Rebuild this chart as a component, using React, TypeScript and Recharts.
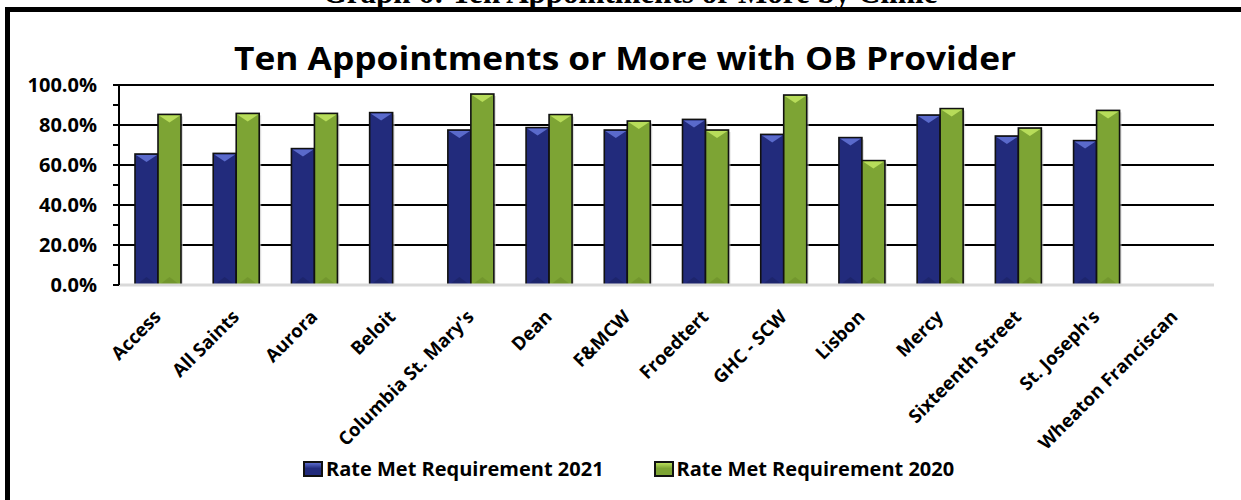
import React from "react";
import { BarChart, Bar, XAxis, YAxis, CartesianGrid, Legend } from "recharts";

const clinics = [
  "Access",
  "All Saints",
  "Aurora",
  "Beloit",
  "Columbia St. Mary's",
  "Dean",
  "F&MCW",
  "Froedtert",
  "GHC - SCW",
  "Lisbon",
  "Mercy",
  "Sixteenth Street",
  "St. Joseph's",
  "Wheaton Franciscan",
];

const rate2021 = [65.5, 65.8, 68.2, 86.2, 77.5, 78.7, 77.5, 82.8, 75.3, 73.7, 85.0, 74.5, 72.2, null];
const rate2020 = [85.3, 85.8, 85.8, null, 95.5, 85.2, 82.0, 77.5, 95.0, 62.2, 88.2, 78.5, 87.3, null];

const yTicks = [0, 10, 20, 30, 40, 50, 60, 70, 80, 90, 100];
const gridTicks = [20, 40, 60, 80, 100];

const data = clinics.map((name, i) => ({ name, r2021: rate2021[i], r2020: rate2020[i] }));

const FONT = "'Open Sans', sans-serif";

const BLUE = { main: "#222b7c", light: "#5a6acb", dark: "#1a2163" };
const GREEN = { main: "#7da434", light: "#b7dc5a", dark: "#6a8e2a" };

const makeBevelBar = (c: typeof BLUE) => (props: any) => {
  const { x, y, width, height } = props;
  if (height == null || height <= 0) return null;
  const w = width;
  const t = Math.min(8, height / 2);
  return (
    <g>
      <rect x={x + 2} y={y + 2} width={w} height={height - 2} fill="#c8c8c8" opacity={0.6} />
      <rect x={x} y={y} width={w} height={height} fill={c.main} stroke="#111" strokeWidth={1.6} />
      <polygon points={`${x + 1},${y + 1} ${x + w - 1},${y + 1} ${x + w / 2},${y + t}`} fill={c.light} />
      <polygon points={`${x + 1},${y + height} ${x + w - 1},${y + height} ${x + w / 2},${y + height - t}`} fill={c.dark} opacity={0.6} />
    </g>
  );
};

const XTick = ({ x, y, payload }: any) => (
  <g transform={`translate(${x + 4},${y + 31})`}>
    <text transform="rotate(-45)" textAnchor="end" fontFamily={FONT} fontWeight={700} fontSize={18.5} fill="#000">
      {payload.value}
    </text>
  </g>
);

const YTick = ({ x, y, payload }: any) => {
  if (payload.value % 20 !== 0) return null;
  return (
    <text x={x - 16} y={y} dy="0.35em" textAnchor="end" fontFamily={FONT} fontWeight={700} fontSize={20} fill="#000">
      {payload.value.toFixed(1)}%
    </text>
  );
};

const LegendBox = () => (
  <div style={{ display: "flex", alignItems: "center", fontFamily: FONT, fontWeight: 700, fontSize: 20, color: "#000", whiteSpace: "nowrap" }}>
    {[
      { label: "Rate Met Requirement 2021", c: BLUE },
      { label: "Rate Met Requirement 2020", c: GREEN },
    ].map((item, i) => (
      <div key={i} style={{ display: "flex", alignItems: "center", marginRight: i === 0 ? 50 : 0 }}>
        <span
          style={{
            width: 16,
            height: 12,
            background: `linear-gradient(${item.c.light} 0%, ${item.c.main} 45%)`,
            border: "2px solid #111",
            marginRight: 3,
          }}
        />
        <span>{item.label}</span>
      </div>
    ))}
  </div>
);

export default function App() {
  return (
    <div style={{ position: "absolute", left: 0, top: 0, width: 1241, height: 500, background: "#fff", overflow: "hidden" }}>
      <svg width={1241} height={500} style={{ position: "absolute", left: 0, top: 0 }}>
        <text x={630} y={3} textAnchor="middle" fontFamily="'Liberation Serif', serif" fontWeight={700} fontSize={31} fill="#000">
          Graph 6: Ten Appointments or More by Clinic
        </text>
        <rect x={7.5} y={9.5} width={1400} height={700} fill="none" stroke="#000" strokeWidth={5} />
        <text
          x={625}
          y={70}
          textAnchor="middle"
          textLength={782}
          lengthAdjust="spacingAndGlyphs"
          fontFamily={FONT}
          fontWeight={700}
          fontSize={32}
          fill="#000"
        >
          Ten Appointments or More with OB Provider
        </text>
      </svg>
      <div style={{ position: "absolute", left: 0, top: 0 }}>
        <BarChart
          width={1241}
          height={500}
          data={data}
          margin={{ top: 85, right: 27, left: 0, bottom: 35 }}
          barSize={23}
          barGap={0}
        >
          <CartesianGrid horizontal vertical={false} horizontalValues={gridTicks} stroke="#000" strokeWidth={2} />
          <XAxis
            dataKey="name"
            interval={0}
            height={180}
            tickLine={false}
            tickSize={0}
            axisLine={{ stroke: "#d9d9d9", strokeWidth: 3 }}
            tick={<XTick />}
          />
          <YAxis
            width={119}
            domain={[0, 100]}
            ticks={yTicks}
            interval={0}
            tickSize={6}
            tickMargin={0}
            axisLine={{ stroke: "#000", strokeWidth: 2 }}
            tickLine={{ stroke: "#000", strokeWidth: 2 }}
            tick={<YTick />}
          />
          <Legend
            layout="horizontal"
            verticalAlign="middle"
            align="center"
            wrapperStyle={{ top: 455, left: 303, width: "auto" }}
            content={<LegendBox />}
          />
          <Bar dataKey="r2021" name="Rate Met Requirement 2021" fill={BLUE.main} shape={makeBevelBar(BLUE)} isAnimationActive={false} />
          <Bar dataKey="r2020" name="Rate Met Requirement 2020" fill={GREEN.main} shape={makeBevelBar(GREEN)} isAnimationActive={false} />
        </BarChart>
      </div>
    </div>
  );
}
